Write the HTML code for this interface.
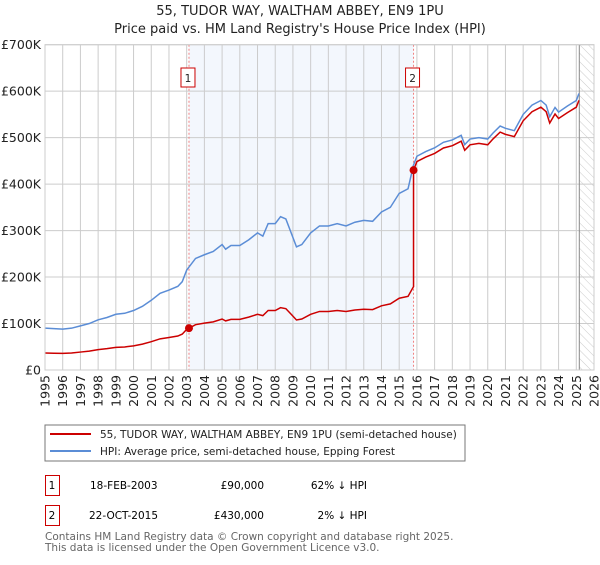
<!DOCTYPE html>
<html><head><meta charset="utf-8"><style>
body{margin:0;background:#fff;font-family:"Liberation Sans","DejaVu Sans",sans-serif;}
svg text{font-family:"DejaVu Sans","Liberation Sans",sans-serif;}
</style></head><body>
<svg id="c" width="600" height="560" viewBox="0 0 600 560" xmlns="http://www.w3.org/2000/svg">
<defs><pattern id="hatch" width="6" height="6" patternUnits="userSpaceOnUse" patternTransform="rotate(-45)"><line x1="0" y1="0" x2="0" y2="6" stroke="#ccc" stroke-width="1"/></pattern></defs>
<text x="300" y="15" text-anchor="middle" font-size="13" fill="#222">55, TUDOR WAY, WALTHAM ABBEY, EN9 1PU</text>
<text x="300" y="33" text-anchor="middle" font-size="13" fill="#222">Price paid vs. HM Land Registry's House Price Index (HPI)</text>
<g id="plot"></g>
<rect x="45" y="425" width="420" height="36" fill="#fff" stroke="#777"/>
<line x1="50" y1="434" x2="91" y2="434" stroke="#cc0000" stroke-width="2"/>
<text x="100" y="438" font-size="10.5" fill="#222">55, TUDOR WAY, WALTHAM ABBEY, EN9 1PU (semi-detached house)</text>
<line x1="50" y1="451" x2="91" y2="451" stroke="#5b8dd6" stroke-width="2"/>
<text x="100" y="455" font-size="10.5" fill="#222">HPI: Average price, semi-detached house, Epping Forest</text>
<g>
<rect x="45.5" y="475.5" width="14" height="20" fill="none" stroke="#cc0000"/>
<text x="52" y="489" text-anchor="middle" font-size="10.5">1</text>
<text x="90" y="489" font-size="10.5">18-FEB-2003</text>
<text x="264" y="489" text-anchor="end" font-size="10.5">£90,000</text>
<text x="367" y="489" text-anchor="end" font-size="10.5">62% ↓ HPI</text></g>
<g>
<rect x="45.5" y="505.5" width="14" height="20" fill="none" stroke="#cc0000"/>
<text x="52" y="519" text-anchor="middle" font-size="10.5">2</text>
<text x="89" y="519" font-size="10.5">22-OCT-2015</text>
<text x="264" y="519" text-anchor="end" font-size="10.5">£430,000</text>
<text x="367" y="519" text-anchor="end" font-size="10.5">2% ↓ HPI</text></g>
<text x="45" y="540" font-size="10.5" fill="#666">Contains HM Land Registry data © Crown copyright and database right 2025.</text>
<text x="45" y="551" font-size="10.5" fill="#666">This data is licensed under the Open Government Licence v3.0.</text>
</svg>
<script>
const hpiYears=[1995,1995.5,1996,1996.5,1997,1997.5,1998,1998.5,1999,1999.5,2000,2000.5,2001,2001.5,2002,2002.5,2002.75,2003,2003.5,2004,2004.5,2005,2005.2,2005.5,2006,2006.5,2007,2007.3,2007.6,2008,2008.3,2008.6,2008.9,2009.2,2009.5,2010,2010.5,2011,2011.5,2012,2012.5,2013,2013.5,2014,2014.5,2015,2015.5,2015.8,2016,2016.5,2017,2017.5,2018,2018.5,2018.7,2019,2019.5,2020,2020.3,2020.7,2021,2021.5,2022,2022.5,2023,2023.3,2023.5,2023.8,2024,2024.5,2025,2025.15];
const hpiValues=[90,89,88,90,95,100,108,113,120,122,128,137,150,165,172,180,190,215,240,248,255,270,260,268,268,280,295,288,315,315,330,325,295,265,270,295,310,310,315,310,318,322,320,340,350,380,390,440,460,470,478,490,495,505,485,497,500,497,510,525,520,515,550,570,580,570,545,565,555,568,580,595];
const saleYears=[2003.13,2015.81];
const saleValues=[90,430];
const yTicks=[0,100,200,300,400,500,600,700];
const yTickLabels=["£0","£100K","£200K","£300K","£400K","£500K","£600K","£700K"];
const xTicks=[];for(let y=1995;y<=2026;y++)xTicks.push(y);
const X0=45,X1=594,Y0=370,Y1=44.7;
const xs=y=>X0+(y-1995)/(2026-1995)*(X1-X0);
const ys=v=>Y0-v/700*(Y0-Y1);
const NS="http://www.w3.org/2000/svg";
const g=document.getElementById('plot');
function mk(t,a){const e=document.createElementNS(NS,t);for(const k in a)e.setAttribute(k,a[k]);g.appendChild(e);return e;}
let e;
e=mk('rect',{x:xs(saleYears[0]),y:Y1,width:xs(saleYears[1])-xs(saleYears[0]),height:Y0-Y1,fill:'#eef3fc',opacity:0.7});


e=mk('rect',{x:xs(2025.17),y:Y1,width:X1-xs(2025.17),height:Y0-Y1,fill:'url(#hatch)'});


xTicks.forEach((t,i)=>{
 e=mk('line',{x1:xs(t),x2:xs(t),y1:Y1,y2:Y0,stroke:'#ccc'});
 
 
 e=mk('text',{x:0,y:0,transform:`translate(${xs(t)+4.5},${Y0+5}) rotate(-90)`,'text-anchor':'end','font-size':'12.5',fill:'#222'});
 e.textContent=t;
 
 
});
yTicks.forEach((t,i)=>{
 e=mk('line',{x1:X0,x2:X1,y1:ys(t),y2:ys(t),stroke:'#ccc'});
 
 
 e=mk('text',{x:X0-4,y:ys(t)+4.5,'text-anchor':'end','font-size':'12.5',fill:'#222'});
 e.textContent=yTickLabels[i];
 
 
});
e=mk('line',{x1:xs(2025.17),x2:xs(2025.17),y1:Y1,y2:Y0,stroke:'#888','stroke-width':1});


saleYears.forEach((s,i)=>{
 e=mk('line',{x1:xs(s),x2:xs(s),y1:Y1,y2:Y0,stroke:'#f08080','stroke-dasharray':'2,2'});
 
 
 e=mk('rect',{x:xs(s)-8,y:68,width:14,height:19,fill:'#fff',stroke:'#cc0000'});
 
 
 e=mk('text',{x:xs(s)-1,y:82,'text-anchor':'middle','font-size':'10.5',fill:'#222'});
 e.textContent=String(i+1);
 
 
});
function hpiAt(y){for(let i=1;i<hpiYears.length;i++){if(y<=hpiYears[i]){const f=(y-hpiYears[i-1])/(hpiYears[i]-hpiYears[i-1]);return hpiValues[i-1]+f*(hpiValues[i]-hpiValues[i-1]);}}return hpiValues[hpiValues.length-1];}
// blue
e=mk('polyline',{points:hpiYears.map((y,i)=>xs(y)+','+ys(hpiValues[i])).join(' '),fill:'none',stroke:'#5b8dd6','stroke-width':1.5});


// red: price indexed by HPI from each sale
const r1=saleValues[0]/hpiAt(saleYears[0]),r2=saleValues[1]/hpiAt(saleYears[1]);
let pts=[];
hpiYears.forEach((y,i)=>{if(y<saleYears[1])pts.push([y,hpiValues[i]*r1]);});
pts.push([saleYears[1],hpiAt(saleYears[1])*r1]);
pts.push([saleYears[1],saleValues[1]]);
hpiYears.forEach((y,i)=>{if(y>saleYears[1])pts.push([y,hpiValues[i]*r2]);});
e=mk('polyline',{points:pts.map(p=>xs(p[0])+','+ys(p[1])).join(' '),fill:'none',stroke:'#cc0000','stroke-width':1.5});


saleYears.forEach((s,i)=>{
 e=mk('circle',{cx:xs(s),cy:ys(saleValues[i]),r:4,fill:'#cc0000'});
 
 
});
e=mk('rect',{x:X0,y:Y1,width:X1-X0,height:Y0-Y1,fill:'none',stroke:'#ccc'});


</script>
</body></html>
